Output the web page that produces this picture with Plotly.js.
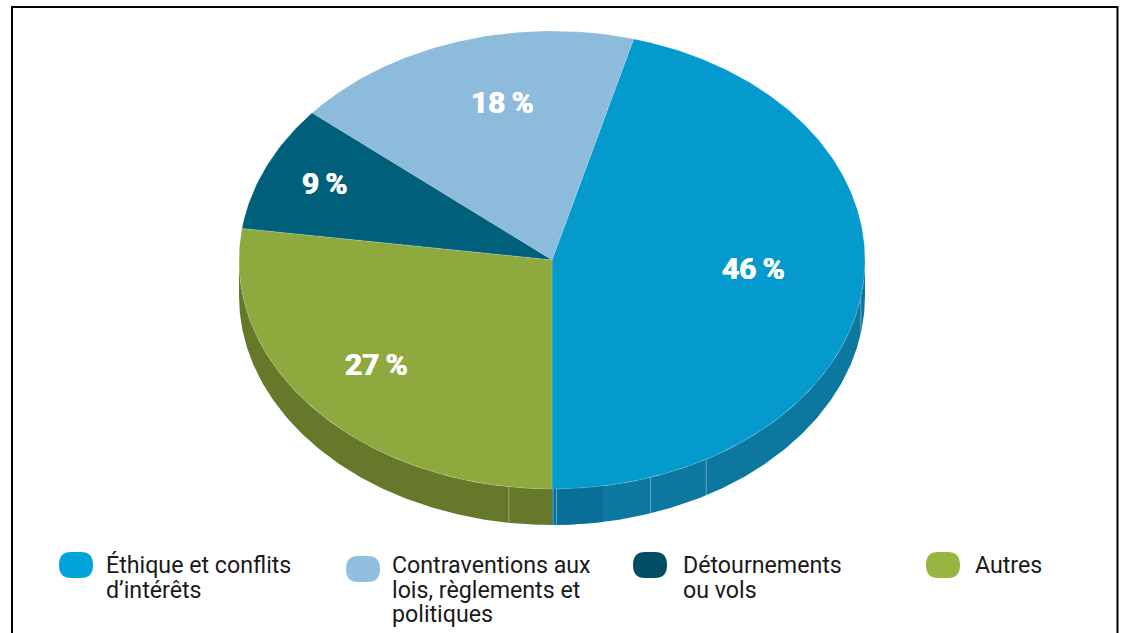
<!DOCTYPE html>
<html>
<head>
<meta charset="utf-8">
<script src="https://cdn.plot.ly/plotly-3.0.1.min.js"></script>
<style>html,body{margin:0;padding:0;background:#fff}#chart{width:1124px;height:633px}</style>
</head>
<body>
<div id="chart"></div>
<script>
// Data
const categories = ["Éthique et conflits d’intérêts", "Contraventions aux lois, règlements et politiques", "Détournements ou vols", "Autres"];
const shares = [45.8, 18.1, 8.9, 27.2];
const shareLabels = ["46\u2009%", "18\u2009%", "9\u2009%", "27\u2009%"];
const legendLines = [["Éthique et conflits", "d’intérêts"], ["Contraventions aux", "lois, règlements et", "politiques"], ["Détournements", "ou vols"], ["Autres"]];
const topColors = ["#059acd", "#8cbbdc", "#00607c", "#8eaa3e"];
const legendColors = ["#00a3da", "#90bfe2", "#004e66", "#97b53f"];
// Wall seams, as a share of the whole pie measured from the bottom point (+ towards the right, - towards the left)
const wallSeams = [-2.2, 0.05, 0.23, 5.1, 8.2, 22.4];

// Geometry
const W = 1124, H = 633;
const cx = 552, cy = 260, rx = 313, ry = 229, depth = 36;
const px = a => cx + rx * Math.sin(a);
const py = a => cy + ry * Math.cos(a);
const toRad = s => s / 100 * 2 * Math.PI;

function arc(a0, a1, off) {
  const n = Math.max(2, Math.ceil(Math.abs(a1 - a0) * 90));
  const xs = [], ys = [];
  for (let i = 0; i <= n; i++) {
    const a = a0 + (a1 - a0) * i / n;
    xs.push(px(a)); ys.push(py(a) + off);
  }
  return [xs, ys];
}
function wall(a0, a1, color) {
  const [x0, y0] = arc(a0, a1, 0);
  const [x1, y1] = arc(a1, a0, depth);
  return {x: x0.concat(x1), y: y0.concat(y1), type: "scatter", mode: "lines", fill: "toself",
    fillcolor: color, line: {width: 0}, hoverinfo: "skip", showlegend: false};
}

const traces = [];
traces.push(wall(0, Math.PI / 2, "#0c789f"));
traces.push(wall(0, toRad(2.6), "#0a7097"));
traces.push(wall(0, -Math.PI / 2, "#667829"));

wallSeams.forEach(s => {
  const a = toRad(s);
  traces.push({x: [px(a), px(a)], y: [py(a), py(a) + depth], type: "scatter", mode: "lines",
    line: {width: 0.8, color: "rgba(255,255,255,0.45)"}, hoverinfo: "skip", showlegend: false});
});

// Top face: starts at the bottom point and goes counter-clockwise through the right side
let acc = 0;
shares.forEach((v, i) => {
  const a0 = toRad(acc), a1 = toRad(acc + v);
  acc += v;
  const [xs, ys] = arc(a0, a1, 0);
  traces.push({x: [cx].concat(xs, [cx]), y: [cy].concat(ys, [cy]), type: "scatter", mode: "lines", fill: "toself",
    fillcolor: topColors[i], line: {width: 0.6, color: "rgba(255,255,255,0.25)"},
    name: categories[i], hoverinfo: "name", showlegend: false});
});

// Label anchors
const labelPos = [[753, 268], [502, 102], [325, 183], [376, 364]];
const annotations = shareLabels.map((t, i) => ({
  x: labelPos[i][0], y: labelPos[i][1], text: t, showarrow: false, xanchor: "center", yanchor: "middle",
  font: {family: "Roboto", size: 30, weight: 700, color: "#fff", shadow: "0.4px 0 0 #fff, -0.4px 0 0 #fff"}
}));

const swatchX = [59, 346, 633, 926], swatchY = [552, 556, 552, 552];
const textX = [106, 392, 683, 975], textY = [565, 565, 565, 565];
const lineGap = 24.5;
legendLines.forEach((lines, i) => {
  lines.forEach((t, j) => annotations.push({
    x: textX[i], y: textY[i] + j * lineGap, text: t, showarrow: false, xanchor: "left", yanchor: "middle", xshift: -2,
    font: {family: "Roboto", size: 23.2, color: "#1a1a1a"}
  }));
});

const swW = 34, swH = 26, r = 12;
const shapes = swatchX.map((x, i) => {
  const y = swatchY[i];
  return {type: "path", xref: "x", yref: "y", line: {width: 0}, fillcolor: legendColors[i],
    path: `M${x + r},${y} L${x + swW - r},${y} Q${x + swW},${y} ${x + swW},${y + swH / 2} Q${x + swW},${y + swH} ${x + swW - r},${y + swH} L${x + r},${y + swH} Q${x},${y + swH} ${x},${y + swH / 2} Q${x},${y} ${x + r},${y} Z`};
});
// Frame, open at the bottom
shapes.push({type: "path", xref: "x", yref: "y", line: {width: 2, color: "#000"},
  path: `M12,${H} L12,7 L1117.5,7 L1117.5,${H}`});

Plotly.newPlot("chart", traces, {
  width: W, height: H, margin: {l: 0, r: 0, t: 0, b: 0}, paper_bgcolor: "#fff", plot_bgcolor: "#fff",
  xaxis: {range: [0, W], visible: false, fixedrange: true},
  yaxis: {range: [H, 0], visible: false, fixedrange: true},
  showlegend: false, shapes, annotations
}, {displayModeBar: false});
</script>
</body>
</html>
